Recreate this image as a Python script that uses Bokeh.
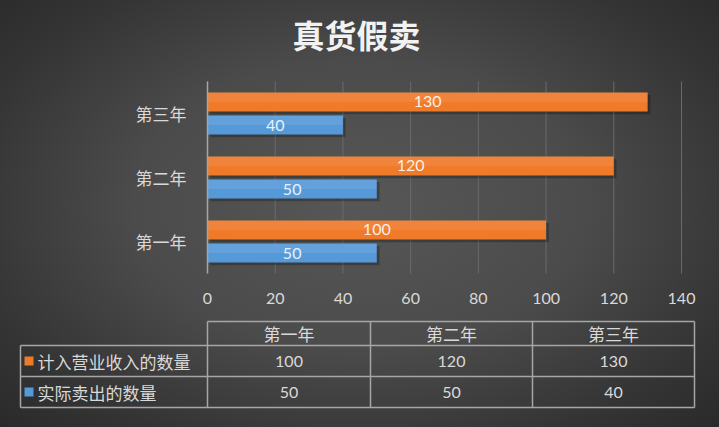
from bokeh.plotting import figure
from bokeh.models import (Range1d, FixedTicker, ColumnDataSource, LinearAxis,
                          GlobalInlineStyleSheet)
from bokeh.core.properties import value
from bokeh.embed import file_html
from bokeh.resources import INLINE

# ---------------- data ----------------
title_text = "真货假卖"
years = ["第一年", "第二年", "第三年"]
series_names = ["计入营业收入的数量", "实际卖出的数量"]
revenue_qty = [100, 120, 130]
sold_qty = [50, 50, 40]
x_ticks = [0, 20, 40, 60, 80, 100, 120, 140]

# ---------------- style / layout ----------------
W, H_PX = 719, 427
ORANGE = "#EE7A2A"
BLUE = "#5599D8"
TXT = "#d9d9d9"
CJK = "Noto Sans CJK SC"
NUM = "Lato"
GRID = "#6a6a6a"
LINE = "#a6a6a6"

# pixel placement of the bar area (layout only)
X_LEFT_PX, X_RIGHT_PX = 207, 681
Y_TOP_PX, Y_BOT_PX = 81, 273
x_max = x_ticks[-1]
sx = (X_RIGHT_PX - X_LEFT_PX) / x_max
band = (Y_BOT_PX - Y_TOP_PX) / len(years)

x_range = Range1d(-X_LEFT_PX / sx, (W - X_LEFT_PX) / sx)
y_range = Range1d((Y_BOT_PX - H_PX) / band, Y_BOT_PX / band)

pos = [i + 0.5 for i in range(len(years))]
OFF = 0.18
BH = 0.30
SH_DY = 0.04   # shadow offset (category units)
SH_DX = 0.8    # shadow offset (value units)

src = ColumnDataSource(dict(
    pos=pos,
    rev_y=[v + OFF for v in pos],
    sold_y=[v - OFF for v in pos],
    rev_sh_y=[v + OFF - SH_DY for v in pos],
    sold_sh_y=[v - OFF - SH_DY for v in pos],
    rev_hi_y=[v + OFF + BH / 4 for v in pos],
    sold_hi_y=[v - OFF + BH / 4 for v in pos],
    rev=revenue_qty,
    sold=sold_qty,
    rev_sh=[v + SH_DX for v in revenue_qty],
    sold_sh=[v + SH_DX for v in sold_qty],
    rev_mid=[v / 2 for v in revenue_qty],
    sold_mid=[v / 2 for v in sold_qty],
    rev_txt=[str(v) for v in revenue_qty],
    sold_txt=[str(v) for v in sold_qty],
))

p = figure(width=W, height=H_PX, x_range=x_range, y_range=y_range,
           x_axis_type=None, y_axis_type=None,
           output_backend="svg", toolbar_location=None, min_border=0,
           border_fill_color=None, background_fill_color=None,
           outline_line_color=None)
p.grid.visible = False
p.extra_x_ranges = {"px": Range1d(0, W)}
p.extra_y_ranges = {"px": Range1d(H_PX, 0)}

# vertical grid lines
p.segment(x0=x_ticks, y0=[0] * len(x_ticks), x1=x_ticks, y1=[len(years)] * len(x_ticks),
          line_color=GRID, line_width=1)

# shadows
p.hbar(y="rev_sh_y", left=SH_DX, right="rev_sh", height=BH, source=src,
       fill_color="black", fill_alpha=0.25, line_color=None)
p.hbar(y="sold_sh_y", left=SH_DX, right="sold_sh", height=BH, source=src,
       fill_color="black", fill_alpha=0.25, line_color=None)
# bars
p.hbar(y="rev_y", left=0, right="rev", height=BH, source=src,
       fill_color=ORANGE, line_color=None)
p.hbar(y="sold_y", left=0, right="sold", height=BH, source=src,
       fill_color=BLUE, line_color=None)
# light upper half
p.hbar(y="rev_hi_y", left=0, right="rev", height=BH / 2, source=src,
       fill_color="white", fill_alpha=0.08, line_color=None)
p.hbar(y="sold_hi_y", left=0, right="sold", height=BH / 2, source=src,
       fill_color="white", fill_alpha=0.08, line_color=None)

p.text(x="rev_mid", y="rev_y", text="rev_txt", source=src,
       text_align="center", text_baseline="middle",
       text_color="#fdeee4", text_font_size="16px", text_font=value(NUM))
p.text(x="sold_mid", y="sold_y", text="sold_txt", source=src,
       text_align="center", text_baseline="middle",
       text_color="#e8f1fa", text_font_size="16px", text_font=value(NUM))

# axes (fixed inside the frame, which covers the whole canvas)
xaxis = LinearAxis(fixed_location=0, ticker=FixedTicker(ticks=x_ticks))
xaxis.axis_line_color = None
xaxis.major_tick_line_color = None
xaxis.minor_tick_line_color = None
xaxis.major_label_text_color = TXT
xaxis.major_label_text_font = NUM
xaxis.major_label_text_font_size = "16px"
xaxis.major_label_standoff = 13
p.add_layout(xaxis, "below")

yaxis = LinearAxis(fixed_location=0, ticker=FixedTicker(ticks=pos),
                   bounds=(0, len(years)),
                   major_label_overrides={v: y for v, y in zip(pos, years)})
yaxis.axis_line_color = LINE
yaxis.axis_line_width = 1.5
yaxis.major_tick_line_color = None
yaxis.minor_tick_line_color = None
yaxis.major_label_text_color = TXT
yaxis.major_label_text_font = CJK
yaxis.major_label_text_font_size = "17px"
yaxis.major_label_standoff = 15
p.add_layout(yaxis, "left")

# ---------------- title ----------------
p.text(x=[356], y=[33], text=[title_text], x_range_name="px", y_range_name="px",
       text_align="center", text_baseline="middle", text_color="#f2f2f2",
       text_font_size="32px", text_font_style="bold", text_font=value(CJK))

# ---------------- data table ----------------
tbl_left = 20
col_edges = [207, 370, 532, 694]
row_edges = [321, 345, 376, 407]
PX = dict(x_range_name="px", y_range_name="px")

hx0 = [col_edges[0]] + [tbl_left] * 3
hx1 = [col_edges[-1]] * 4
p.segment(x0=hx0, y0=row_edges, x1=hx1, y1=row_edges, line_color=LINE, line_width=1.5, **PX)
vx = [tbl_left] + col_edges
vy0 = [row_edges[1]] + [row_edges[0]] * len(col_edges)
p.segment(x0=vx, y0=vy0, x1=vx, y1=[row_edges[-1]] * len(vx),
          line_color=LINE, line_width=1.5, **PX)

col_mid = [(a + b) / 2 for a, b in zip(col_edges[:-1], col_edges[1:])]
row_mid = [(a + b) / 2 for a, b in zip(row_edges[:-1], row_edges[1:])]

p.text(x=col_mid, y=[row_mid[0]] * 3, text=years, text_align="center",
       text_baseline="middle", text_color=TXT, text_font_size="17px",
       text_font=value(CJK), **PX)
p.text(x=col_mid, y=[row_mid[1]] * 3, text=[str(v) for v in revenue_qty],
       text_align="center", text_baseline="middle", text_color=TXT,
       text_font_size="16px", text_font=value(NUM), **PX)
p.text(x=col_mid, y=[row_mid[2]] * 3, text=[str(v) for v in sold_qty],
       text_align="center", text_baseline="middle", text_color=TXT,
       text_font_size="16px", text_font=value(NUM), **PX)
p.rect(x=[tbl_left + 8.5] * 2, y=row_mid[1:], width=9, height=9,
       fill_color=[ORANGE, BLUE], line_color=None, **PX)
p.text(x=[tbl_left + 17] * 2, y=row_mid[1:], text=series_names, text_align="left",
       text_baseline="middle", text_color=TXT, text_font_size="17px",
       text_font=value(CJK), **PX)

p.stylesheets = [GlobalInlineStyleSheet(css=(
    "html{min-height:100%;background:#2e2e2e radial-gradient(ellipse 70% 75% at 50% 48%,"
    " #575757 0%, #4b4b4b 45%, #343434 80%, #2a2a2a 100%) fixed;}"
    "body{background:transparent;}"
))]

open("out.html", "w").write(file_html(p, INLINE))
